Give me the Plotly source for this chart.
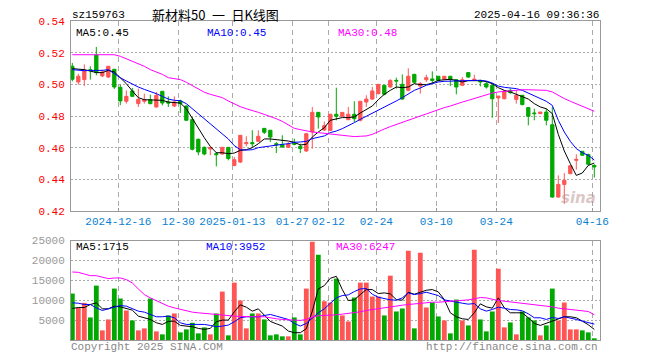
import plotly.graph_objects as go

dates = [
    "2024-12-04", "2024-12-05", "2024-12-06", "2024-12-09", "2024-12-10", "2024-12-11", "2024-12-12", "2024-12-13",
    "2024-12-16", "2024-12-17", "2024-12-18", "2024-12-19", "2024-12-20", "2024-12-23", "2024-12-24", "2024-12-25",
    "2024-12-26", "2024-12-27", "2024-12-30", "2024-12-31",
    "2025-01-02", "2025-01-03", "2025-01-06", "2025-01-07", "2025-01-08", "2025-01-09", "2025-01-10", "2025-01-13",
    "2025-01-14", "2025-01-15", "2025-01-16", "2025-01-17", "2025-01-20", "2025-01-21", "2025-01-22", "2025-01-23",
    "2025-01-24", "2025-01-27",
    "2025-02-05", "2025-02-06", "2025-02-07", "2025-02-10", "2025-02-11", "2025-02-12", "2025-02-13", "2025-02-14",
    "2025-02-17", "2025-02-18", "2025-02-19", "2025-02-20", "2025-02-21", "2025-02-24", "2025-02-25", "2025-02-26",
    "2025-02-27", "2025-02-28",
    "2025-03-03", "2025-03-04", "2025-03-05", "2025-03-06", "2025-03-07", "2025-03-10", "2025-03-11", "2025-03-12",
    "2025-03-13", "2025-03-14", "2025-03-17", "2025-03-18", "2025-03-19", "2025-03-20", "2025-03-21", "2025-03-24",
    "2025-03-25", "2025-03-26", "2025-03-27", "2025-03-28", "2025-03-31",
    "2025-04-01", "2025-04-02", "2025-04-03", "2025-04-07", "2025-04-08", "2025-04-09", "2025-04-10", "2025-04-11",
    "2025-04-14", "2025-04-15", "2025-04-16",
]

opens = [
    0.5114, 0.5015, 0.5030, 0.5093, 0.5185, 0.5053, 0.5046, 0.5095, 0.4981, 0.4893,
    0.4958, 0.4878, 0.4893, 0.4903, 0.4857, 0.4956, 0.4888, 0.4863, 0.4895, 0.4863,
    0.4777, 0.4653, 0.4602, 0.4592, 0.4562, 0.4560, 0.4602, 0.4488, 0.4509, 0.4625,
    0.4632, 0.4640, 0.4722, 0.4710, 0.4625, 0.4619, 0.4602, 0.4630, 0.4608, 0.4579,
    0.4699, 0.4823, 0.4712, 0.4709, 0.4811, 0.4798, 0.4777, 0.4811, 0.4773, 0.4888,
    0.4907, 0.4941, 0.4994, 0.4983, 0.5025, 0.5000, 0.4962, 0.5063, 0.4989, 0.5029,
    0.5034, 0.5051, 0.5032, 0.5051, 0.5029, 0.4994, 0.5074, 0.5025, 0.5025, 0.5004,
    0.4994, 0.4914, 0.4909, 0.4962, 0.4905, 0.4931, 0.4853, 0.4819, 0.4815, 0.4825,
    0.4745, 0.4288, 0.4368, 0.4436, 0.4520, 0.4577, 0.4556, 0.4488,
]
highs = [
    0.5135, 0.5067, 0.5126, 0.5114, 0.5236, 0.5093, 0.5114, 0.5095, 0.4998, 0.4962,
    0.4977, 0.4973, 0.4941, 0.4935, 0.4952, 0.4956, 0.4924, 0.4924, 0.4903, 0.4867,
    0.4794, 0.4657, 0.4608, 0.4602, 0.4573, 0.4602, 0.4602, 0.4541, 0.4678, 0.4672,
    0.4710, 0.4710, 0.4722, 0.4710, 0.4636, 0.4678, 0.4636, 0.4657, 0.4625, 0.4693,
    0.4857, 0.4823, 0.4764, 0.4811, 0.4979, 0.4823, 0.4857, 0.4893, 0.4893, 0.4931,
    0.4983, 0.5000, 0.4994, 0.5032, 0.5042, 0.5063, 0.5101, 0.5067, 0.5015, 0.5061,
    0.5082, 0.5051, 0.5051, 0.5051, 0.5034, 0.5046, 0.5074, 0.5061, 0.5029, 0.5021,
    0.5008, 0.4926, 0.4962, 0.4973, 0.4962, 0.4931, 0.4857, 0.4846, 0.4825, 0.4846,
    0.4857, 0.4425, 0.4440, 0.4486, 0.4558, 0.4577, 0.4562, 0.4495,
]
lows = [
    0.5019, 0.4998, 0.4990, 0.5030, 0.5057, 0.5046, 0.5040, 0.4971, 0.4869, 0.4878,
    0.4920, 0.4857, 0.4878, 0.4874, 0.4853, 0.4867, 0.4857, 0.4857, 0.4819, 0.4771,
    0.4583, 0.4552, 0.4552, 0.4552, 0.4482, 0.4556, 0.4520, 0.4482, 0.4503, 0.4608,
    0.4604, 0.4636, 0.4686, 0.4636, 0.4566, 0.4600, 0.4598, 0.4615, 0.4566, 0.4573,
    0.4594, 0.4720, 0.4705, 0.4705, 0.4773, 0.4794, 0.4773, 0.4762, 0.4766, 0.4857,
    0.4903, 0.4937, 0.4931, 0.4979, 0.4973, 0.4903, 0.4956, 0.5004, 0.4941, 0.5015,
    0.5004, 0.5017, 0.5029, 0.4989, 0.4937, 0.4989, 0.5042, 0.5021, 0.4987, 0.4973,
    0.4789, 0.4756, 0.4905, 0.4941, 0.4878, 0.4867, 0.4741, 0.4773, 0.4815, 0.4741,
    0.4284, 0.4284, 0.4246, 0.4432, 0.4461, 0.4547, 0.4488, 0.4411,
]
closes = [
    0.5032, 0.5051, 0.5084, 0.5086, 0.5074, 0.5078, 0.5114, 0.4983, 0.4895, 0.4924,
    0.4924, 0.4905, 0.4903, 0.4878, 0.4931, 0.4882, 0.4882, 0.4888, 0.4878, 0.4773,
    0.4590, 0.4573, 0.4560, 0.4602, 0.4556, 0.4602, 0.4531, 0.4524, 0.4678, 0.4632,
    0.4625, 0.4672, 0.4697, 0.4667, 0.4619, 0.4604, 0.4623, 0.4621, 0.4594, 0.4688,
    0.4823, 0.4794, 0.4739, 0.4811, 0.4798, 0.4823, 0.4811, 0.4783, 0.4893, 0.4907,
    0.4958, 0.5000, 0.4937, 0.5025, 0.5021, 0.4907, 0.5051, 0.5013, 0.5004, 0.5042,
    0.5025, 0.5025, 0.5051, 0.5032, 0.4983, 0.5029, 0.5046, 0.5032, 0.5015, 0.4983,
    0.4909, 0.4926, 0.4958, 0.4947, 0.4931, 0.4872, 0.4798, 0.4815, 0.4825, 0.4773,
    0.4288, 0.4368, 0.4394, 0.4486, 0.4526, 0.4552, 0.4495, 0.4478,
]
ma5 = [
    0.5099, 0.5095, 0.5093, 0.5084, 0.5074, 0.5074, 0.5088, 0.5078, 0.5042, 0.5004,
    0.4958, 0.4916, 0.4903, 0.4903, 0.4903, 0.4899, 0.4888, 0.4884, 0.4882, 0.4846,
    0.4783, 0.4720, 0.4663, 0.4608, 0.4568, 0.4568, 0.4562, 0.4566, 0.4583, 0.4587,
    0.4600, 0.4625, 0.4655, 0.4655, 0.4651, 0.4646, 0.4642, 0.4634, 0.4617, 0.4621,
    0.4667, 0.4699, 0.4726, 0.4773, 0.4783, 0.4790, 0.4790, 0.4794, 0.4819, 0.4840,
    0.4863, 0.4903, 0.4937, 0.4962, 0.4983, 0.4979, 0.4983, 0.5004, 0.4998, 0.4998,
    0.5008, 0.5025, 0.5030, 0.5032, 0.5025, 0.5015, 0.5023, 0.5025, 0.5023, 0.5017,
    0.5004, 0.4979, 0.4962, 0.4952, 0.4937, 0.4926, 0.4907, 0.4878, 0.4857, 0.4846,
    0.4815, 0.4684, 0.4579, 0.4499, 0.4425, 0.4440, 0.4488, 0.4503,
]
ma10 = [
    0.5093, 0.5088, 0.5086, 0.5088, 0.5088, 0.5088, 0.5093, 0.5067, 0.5042, 0.5021,
    0.5000, 0.4983, 0.4968, 0.4956, 0.4941, 0.4924, 0.4907, 0.4899, 0.4897, 0.4878,
    0.4846, 0.4811, 0.4777, 0.4747, 0.4718, 0.4686, 0.4655, 0.4613, 0.4587, 0.4585,
    0.4587, 0.4600, 0.4606, 0.4610, 0.4615, 0.4621, 0.4625, 0.4634, 0.4636, 0.4640,
    0.4657, 0.4667, 0.4674, 0.4695, 0.4705, 0.4720, 0.4737, 0.4758, 0.4779, 0.4798,
    0.4815, 0.4836, 0.4853, 0.4874, 0.4895, 0.4916, 0.4941, 0.4962, 0.4977, 0.4994,
    0.5004, 0.5015, 0.5019, 0.5021, 0.5021, 0.5021, 0.5025, 0.5025, 0.5025, 0.5021,
    0.5008, 0.4989, 0.4981, 0.4977, 0.4973, 0.4962, 0.4945, 0.4928, 0.4909, 0.4893,
    0.4867, 0.4773, 0.4699, 0.4640, 0.4594, 0.4568, 0.4552, 0.4522,
]
ma30 = [
    0.5187, 0.5187, 0.5187, 0.5187, 0.5187, 0.5187, 0.5187, 0.5187, 0.5177, 0.5162,
    0.5147, 0.5130, 0.5114, 0.5093, 0.5078, 0.5063, 0.5042, 0.5034, 0.5030, 0.5013,
    0.4992, 0.4968, 0.4950, 0.4937, 0.4926, 0.4916, 0.4895, 0.4876, 0.4859, 0.4846,
    0.4836, 0.4823, 0.4810, 0.4798, 0.4783, 0.4766, 0.4743, 0.4722, 0.4714, 0.4705,
    0.4699, 0.4695, 0.4690, 0.4684, 0.4680, 0.4678, 0.4674, 0.4670, 0.4672, 0.4674,
    0.4684, 0.4703, 0.4718, 0.4733, 0.4747, 0.4762, 0.4775, 0.4787, 0.4800, 0.4813,
    0.4827, 0.4842, 0.4853, 0.4863, 0.4878, 0.4888, 0.4899, 0.4910, 0.4924, 0.4937,
    0.4945, 0.4952, 0.4956, 0.4962, 0.4964, 0.4966, 0.4966, 0.4966, 0.4966, 0.4962,
    0.4952, 0.4930, 0.4910, 0.4893, 0.4878, 0.4863, 0.4846, 0.4830,
]
volumes = [
    11667, 8083, 9333, 5667, 13667, 2417, 5167, 12917, 10417, 7417,
    4917, 2417, 2917, 10417, 2167, 1417, 6167, 6667, 1917, 2667,
    4333, 1667, 3167, 1417, 6667, 12167, 1167, 14417, 9917, 2917,
    6667, 6667, 5167, 1167, 1417, 917, 917, 5667, 1417, 12917,
    24667, 21417, 9750, 9417, 15417, 6167, 4667, 10667, 14417, 14417,
    10917, 10917, 6167, 16167, 7167, 7917, 22417, 2917, 21917, 8167,
    9417, 5917, 4917, 1667, 10167, 4917, 3667, 22667, 5167, 2167,
    7167, 17917, 3167, 4417, 1417, 7167, 5667, 4917, 1167, 3667,
    12917, 4917, 9417, 2667, 2667, 2417, 1917, 417,
]
vma5 = [
    7917, 8167, 8167, 8917, 9333, 7833, 7833, 8500, 8333, 8000,
    7500, 6000, 5500, 5167, 4333, 3917, 4667, 4750, 3667, 3500,
    3333, 2917, 2667, 2917, 4583, 5000, 5000, 7083, 8833, 8250,
    7250, 7833, 6167, 4667, 4083, 3500, 2250, 1833, 1833, 2833,
    7250, 12833, 13667, 15500, 16000, 12667, 9917, 10083, 11417, 12667,
    12667, 11667, 11833, 11583, 10167, 10000, 12000, 11500, 12000, 12500,
    12667, 12083, 10167, 6833, 5833, 5333, 5167, 6833, 9083, 8333,
    8000, 10583, 8083, 6833, 6833, 6833, 5583, 4167, 3667, 4167,
    4667, 5333, 5833, 5833, 5583, 4750, 3833, 2667,
]
vma10 = [
    9333, 9250, 8917, 8917, 8083, 7417, 7833, 8333, 8667, 8500,
    7833, 7250, 7000, 6417, 5833, 5833, 6000, 5583, 4333, 3917,
    3917, 3917, 3917, 3667, 3333, 3500, 3750, 4583, 5583, 5833,
    5833, 5833, 6167, 6417, 6000, 5500, 5167, 4167, 3500, 4167,
    5583, 6833, 7833, 9167, 10583, 11167, 11333, 12167, 12833, 12917,
    11500, 10750, 10333, 10083, 10000, 10583, 11833, 11417, 11667, 12000,
    11583, 11167, 10083, 9750, 9417, 9250, 9000, 9167, 7833, 7250,
    7667, 8250, 8000, 7667, 7583, 7333, 6583, 5583, 5583, 5167,
    5667, 5417, 5833, 5583, 5167, 4750, 4333, 4000,
]
vma30 = [
    17083, 17000, 16583, 16167, 16167, 15833, 15417, 15583, 15583, 15167,
    14333, 12833, 11417, 10583, 9917, 9167, 8500, 8083, 7667, 7250,
    7000, 6833, 6667, 6500, 6333, 6167, 6083, 6000, 5917, 5833,
    5833, 5833, 5833, 5500, 5333, 5167, 5167, 5000, 4917, 5167,
    5750, 6083, 6167, 6167, 6333, 6500, 6667, 6833, 7083, 7417,
    7667, 7917, 8167, 8417, 8583, 8750, 8917, 9083, 9250, 9417,
    9500, 9500, 9583, 9750, 9917, 10000, 10083, 10333, 10667, 10583,
    10167, 9917, 9750, 9583, 9333, 9083, 8917, 8833, 8667, 8500,
    8333, 8000, 7833, 7667, 7500, 7333, 7167, 6333,
]
tick_dates = ["2024-12-16", "2024-12-30", "2025-01-13", "2025-01-27", "2025-02-12",
              "2025-02-24", "2025-03-10", "2025-03-24", "2025-04-16"]
tick_labels = ["2024-12-16", "12-30", "2025-01-13", "01-27", "02-12",
               "02-24", "03-10", "03-24", "04-16"]
price_ticks = [0.42, 0.44, 0.46, 0.48, 0.50, 0.52, 0.54]
volume_ticks = [5000, 10000, 15000, 20000, 25000]

RED = "#ff5555"
GREEN = "#00a800"
GRID = "#aaaaaa"
FRAME = "#999999"
FONT = "Liberation Mono"

idx = list(range(len(dates)))
tick_pos = [dates.index(d) - 0.33 for d in tick_dates]
bar_colors = [RED if c >= o else GREEN for o, c in zip(opens, closes)]

fig = go.Figure()
fig.add_trace(go.Candlestick(
    x=idx, open=opens, high=highs, low=lows, close=closes,
    increasing=dict(line=dict(color=RED, width=1), fillcolor=RED),
    decreasing=dict(line=dict(color=GREEN, width=1), fillcolor=GREEN),
    whiskerwidth=0, xaxis="x", yaxis="y", showlegend=False,
))
for vals, col in ((ma5, "#000000"), (ma10, "#0000ff"), (ma30, "#ff00ff")):
    fig.add_trace(go.Scatter(x=idx, y=vals, mode="lines", line=dict(color=col, width=1),
                             xaxis="x", yaxis="y", showlegend=False, hoverinfo="skip"))
fig.add_trace(go.Bar(x=idx, y=volumes, marker=dict(color=bar_colors, line=dict(width=0)),
                     width=0.8, xaxis="x2", yaxis="y2", showlegend=False))
for vals, col in ((vma5, "#000000"), (vma10, "#0000ff"), (vma30, "#ff00ff")):
    fig.add_trace(go.Scatter(x=idx, y=vals, mode="lines", line=dict(color=col, width=1),
                             xaxis="x2", yaxis="y2", showlegend=False, hoverinfo="skip"))

W, H = 660, 360
L, R, T, B = 71, 600, 21, 340
PW, PH = R - L, B - T
main_bottom = (B - 211) / PH
vol_top = (B - 240.5) / PH
xr = [-0.22, 87.95]


def px(x):
    return (x - L) / PW


def py(y):
    return (B - y) / PH


common_x = dict(range=xr, tickvals=tick_pos, showgrid=True, gridcolor=GRID, griddash="5px,4px",
                gridwidth=1, showline=True, linecolor=FRAME, linewidth=1, mirror=True,
                zeroline=False, fixedrange=True)

fig.update_layout(
    width=W, height=H, margin=dict(l=L, r=W - R, t=T, b=H - B),
    paper_bgcolor="white", plot_bgcolor="white", boxgap=0.22, bargap=0.2,
    font=dict(family=FONT, size=11, color="#000000"),
    xaxis=dict(common_x, domain=[0, 1], anchor="y", ticktext=tick_labels,
               tickfont=dict(family=FONT, size=11, color="#0a7fd1"),
               rangeslider=dict(visible=False), ticks="inside", ticklen=3, tickcolor=FRAME),
    yaxis=dict(domain=[main_bottom, 1], range=[0.42, 0.54], tickvals=price_ticks,
               ticktext=["%.2f" % v for v in price_ticks],
               tickfont=dict(family=FONT, size=11, color="#ff0000"),
               showgrid=True, gridcolor=GRID, griddash="2px,2px", showline=True,
               linecolor=FRAME, mirror=True, zeroline=False, ticklabelstandoff=3, fixedrange=True),
    xaxis2=dict(common_x, domain=[0, 1], anchor="y2", showticklabels=False),
    yaxis2=dict(domain=[0, vol_top], range=[0, 25000], tickvals=volume_ticks,
                ticktext=[str(v) for v in volume_ticks],
                tickfont=dict(family=FONT, size=11, color="#999999"),
                showgrid=True, gridcolor=GRID, griddash="2px,2px", showline=True,
                linecolor=FRAME, mirror=True, zeroline=False, ticklabelstandoff=3, fixedrange=True),
)


def note(text, x, y, color="#000000", xanchor="left", size=11, family=FONT, **kw):
    fig.add_annotation(text=text, x=px(x), y=py(y), xref="paper", yref="paper",
                       xanchor=xanchor, yanchor="middle", showarrow=False,
                       font=dict(family=family, size=size, color=color), **kw)


note("sz159763", 70, 15)
note("新材料50\u2002一\u2002日K线图", 150, 15, size=13, family="Noto Sans CJK SC")
note("2025-04-16 09:36:36", 601, 15, xanchor="right")
note("MA5:%.2f" % ma5[-1], 74, 33)
note("MA10:%.2f" % ma10[-1], 205, 33, color="#0000ff")
note("MA30:%.2f" % ma30[-1], 336, 33, color="#ff00ff")
note("MA5:1715", 74, 247)
note("MA10:3952", 204, 247, color="#0000ff")
note("MA30:6247", 334, 247, color="#ff00ff")
note("Copyright 2025 SINA.COM", 69, 347, color="#888888")
note("http://finance.sina.com.cn", 600, 347, color="#888888", xanchor="right")
note("<b><i>sina</i></b>", 578, 198, color="rgba(190,150,150,0.55)", xanchor="center",
     size=15, family="DejaVu Sans")

fig.write_html("out.html", config={"displayModeBar": False},
               post_script="document.body.style.margin='0px';document.body.style.padding='0px';")
